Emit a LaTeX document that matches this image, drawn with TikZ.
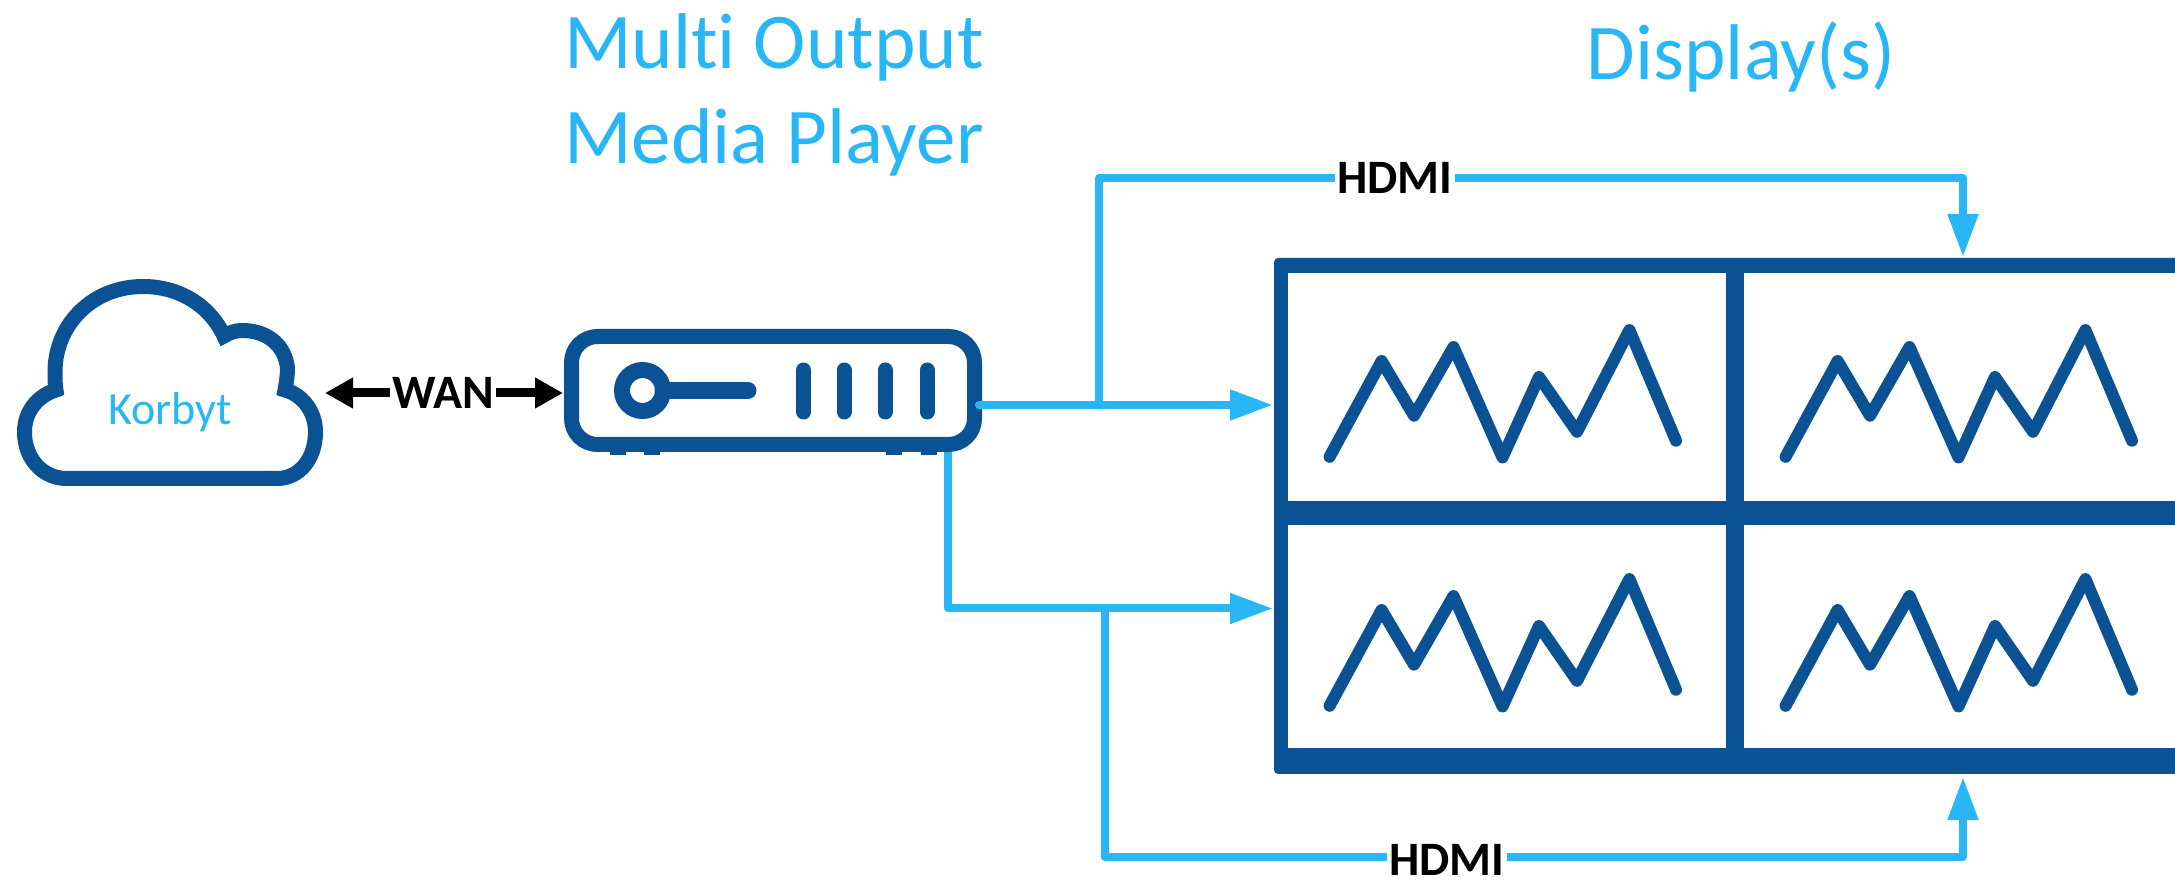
\documentclass[tikz,border=0pt]{standalone}
\usepackage{fontspec}
\setmainfont{Carlito}[Ligatures=NoCommon]
\usetikzlibrary{arrows.meta,positioning}
\definecolor{dk}{RGB}{11,82,148}
\definecolor{lt}{RGB}{41,182,246}
\tikzset{
  x=0.5pt,y=-0.5pt,
  title/.style={text=lt,font=\fontsize{39.5}{39.5}\selectfont,inner sep=0pt,anchor=base},
  lbl/.style={fill=white,text=black,inner xsep=1pt,inner ysep=0pt,font=\bfseries\fontsize{24}{24}\selectfont},
  hdmi/.style={draw=lt,line width=4pt,line join=round,-{Triangle[length=21.5pt,width=14.5pt]}},
  wan/.style={draw=black,line width=4.5pt,{Triangle[length=14pt,width=14.5pt]}-{Triangle[length=14pt,width=14.5pt]}},
  ink/.style={draw=dk,line width=7.5pt},
  zig/.style={draw=dk,line width=6pt,line cap=round,line join=round},
  bar/.style={draw=dk,line width=7.5pt,line cap=round},
  panel/.style={fill=white,inner sep=0pt,outer sep=0pt,anchor=north west},
  foot/.style={fill=dk,inner sep=0pt,outer sep=0pt,minimum width=8pt,minimum height=3pt,anchor=north}
}
\begin{document}
\begin{tikzpicture}
\useasboundingbox (0,0) rectangle (2175,881);
% Titles
\node[title] (t1) at (774,69) {Multi Output};
\node[title] (t2) at (774,164) {Media Player};
\node[title] (t3) at (1741,80) {Display(s)};
% Cloud
\draw[ink,miter limit=10] (67,478.5) -- (277,478.5)
  .. controls (300,478.5) and (315.5,458) .. (315.5,432)
  .. controls (315.5,412) and (303,395) .. (285,390)
  .. controls (286.5,382) and (287.5,375) .. (287.5,368)
  .. controls (285,345) and (267,330.5) .. (242,330.5)
  .. controls (235,330.5) and (229,333) .. (224,336)
  .. controls (210,306) and (180,286.5) .. (143,286.5)
  .. controls (92,286.5) and (55,325) .. (55,372)
  .. controls (55,378) and (55,384) .. (56,390)
  .. controls (37,396) and (24.5,412) .. (24.5,432)
  .. controls (24.5,458) and (42,478.5) .. (67,478.5) -- cycle;
\node[text=lt,font=\fontsize{23}{23}\selectfont,inner sep=0pt,anchor=base] (cloud) at (170,425) {Korbyt};
\coordinate (cloudE) at (325,393);
% Device
\foreach \fx in {618,652,894,929}
  \node[foot] at (\fx,449) {};
\node[draw=dk,line width=7.5pt,fill=white,rounded corners=13pt,minimum width=201.5pt,minimum height=54pt,inner sep=0pt,outer sep=0pt] (device) at (773,390.5) {};
\node[draw=dk,line width=8pt,circle,minimum size=20.5pt,inner sep=0pt,outer sep=0pt] (knob) at (642.5,390.5) {};
\coordinate (keyEnd) at (748,390.5);
\draw[dk,line width=8.5pt,line cap=round] (knob.east) -- (keyEnd);
\foreach \bx in {803.5,844,885,927}
  \draw[bar] (\bx,370) -- (\bx,412);
\coordinate (devW) at (563,393);
\coordinate (devE) at (979,405);
\coordinate (devS) at (948,452);
% Display wall
\node[fill=dk,rounded corners=2pt,inner sep=0pt,outer sep=0pt,anchor=north west,minimum width=453pt,minimum height=258pt] (wall) at (1274,258) {};
\node[panel,minimum width=218.75pt,minimum height=114pt] (tl) at (1288,273) {};
\node[panel,minimum width=215.5pt,minimum height=114pt] (tr) at (1744,273) {};
\node[panel,minimum width=218.75pt,minimum height=111.5pt] (bl) at (1288,525) {};
\node[panel,minimum width=215.5pt,minimum height=111.5pt] (br) at (1744,525) {};
\foreach \dx/\dy in {0/0,456/0,0/249,456/249}
  \draw[zig,xshift=\dx*0.5pt,yshift=-\dy*0.5pt] (1329.6,456.8) -- (1381.6,361) -- (1414,415.7) -- (1453.5,347) -- (1502.5,457.5) -- (1539,377) -- (1577,431.8) -- (1629.4,330) -- (1676,440.7);
% Connector coordinates
\coordinate (wallA) at (1273,405);
\coordinate (wallB) at (1273,608.5);
\coordinate (wallT) at (1963,257);
\coordinate (wallU) at (1963,777);
\coordinate (tapA) at (1099,405);
\coordinate (tapB) at (1104.5,608.5);
% Connectors
\draw[wan] (cloudE) -- node[lbl,pos=0.496] (wanl) {WAN} (devW);
\draw[hdmi,line cap=round] (devE) -- (wallA);
\draw[hdmi] (tapA) |- (1963,178) -- (wallT);
\draw[hdmi] (devS) |- (wallB);
\draw[hdmi] (tapB) |- (1963,857) -- (wallU);
\node[lbl] (h1) at (1395,178) {HDMI};
\node[lbl] (h2) at (1447,860) {HDMI};
\end{tikzpicture}
\end{document}
